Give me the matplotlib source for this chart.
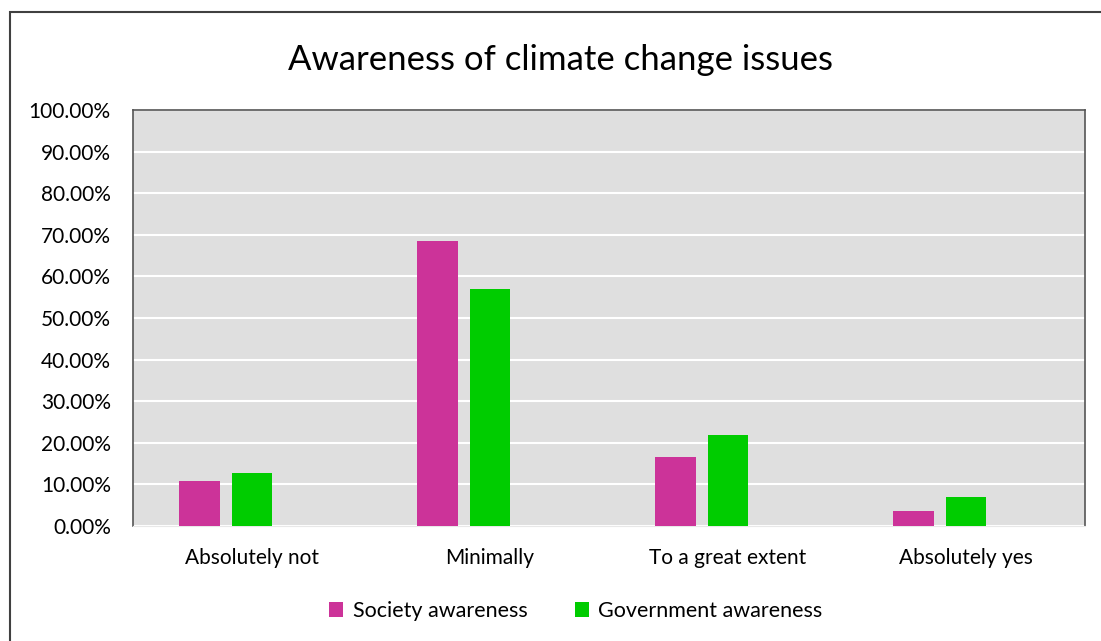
#!/usr/bin/env python3
"""Awareness of climate change issues - grouped bar chart."""

import numpy as np
import matplotlib.pyplot as plt
from matplotlib.patches import Rectangle
from matplotlib.ticker import FuncFormatter

categories = ["Absolutely not", "Minimally", "To a great extent", "Absolutely yes"]
society = [10.8, 68.5, 16.6, 3.6]
government = [12.7, 57.0, 21.9, 7.0]
series_names = ["Society awareness", "Government awareness"]
y_ticks = [0, 10, 20, 30, 40, 50, 60, 70, 80, 90, 100]


def main():
    plt.rcParams["font.family"] = ["Lato", "DejaVu Sans"]
    fig = plt.figure(figsize=(11.01, 6.41), dpi=100)
    ax = fig.add_axes([0.1208, 0.1794, 0.8647, 0.649])

    # chart border (only top/left visible in the original crop)
    fig.patches.append(Rectangle((10 / 1101, -0.1), 1.2, 1 - 12 / 641 + 0.1,
                                 transform=fig.transFigure, fill=False,
                                 edgecolor="#404040", linewidth=1.5))

    x = np.arange(len(categories))
    step = 0.22
    width = 0.172
    ax.bar(x - step, society, width, color="#CC3399", label=series_names[0], zorder=3)
    ax.bar(x, government, width, color="#00CC00", label=series_names[1], zorder=3)

    ax.set_facecolor("#DFDFDF")
    ax.set_xlim(-0.5, len(categories) - 0.5)
    ax.set_ylim(0, 100)
    ax.set_yticks(y_ticks)
    ax.yaxis.set_major_formatter(FuncFormatter(lambda v, _: f"{v:.2f}%"))
    ax.set_xticks(x)
    ax.set_xticklabels(categories)
    ax.tick_params(axis="both", length=0, labelsize=15, colors="#000000")
    ax.tick_params(axis="y", pad=16)
    ax.tick_params(axis="x", pad=16)
    ax.grid(axis="y", color="white", linewidth=1.5, zorder=1)
    ax.set_axisbelow(True)
    for side in ["top", "left", "right"]:
        ax.spines[side].set_color("#555555")
        ax.spines[side].set_linewidth(1.2)
    ax.spines["bottom"].set_color("#E8E8E8")

    fig.text(0.509, 1 - 60 / 641, "Awareness of climate change issues",
             ha="center", va="center", fontsize=25)

    fig.legend(loc="center", bbox_to_anchor=(0.523, 1 - 611 / 641), ncol=2,
               frameon=False, fontsize=15.5, handlelength=0.65, handleheight=0.65,
               handletextpad=0.45, columnspacing=2.2)

    fig.savefig("out.png", dpi=100)


if __name__ == "__main__":
    main()
